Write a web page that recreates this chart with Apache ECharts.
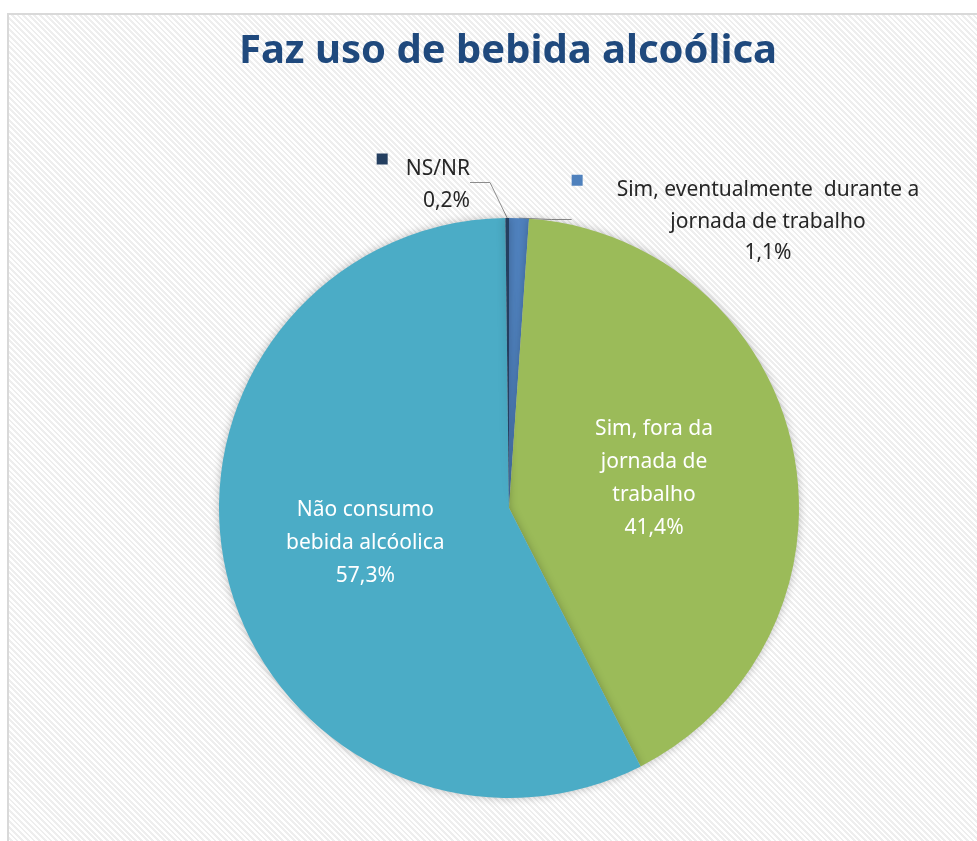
<!DOCTYPE html>
<html>
<head>
<meta charset="utf-8">
<script src="https://cdn.jsdelivr.net/npm/echarts@6/dist/echarts.min.js"></script>
<style>
  html, body { margin: 0; padding: 0; background: #fff; overflow: hidden; }
  .frame {
    position: absolute; left: 7px; top: 13px; width: 990px; height: 850px;
    border-left: 2px solid #d9d9d9; border-top: 2px solid #d9d9d9;
    background: repeating-linear-gradient(45deg, #ffffff 0px, #ffffff 2px, #eeeeee 2px, #eeeeee 4px);
  }
  #chart { position: absolute; left: 0; top: 0; width: 977px; height: 841px; }
</style>
</head>
<body>
<div class="frame"></div>
<div id="chart"></div>
<script>
// dados (ordem horária a partir do topo)
const categories = ['Sim, eventualmente  durante a jornada de trabalho', 'Sim, fora da jornada de trabalho', 'Não consumo bebida alcóolica', 'NS/NR']
const labelTexts = [
  ['Sim, eventualmente  durante a', 'jornada de trabalho'],
  ['Sim, fora da', 'jornada de', 'trabalho'],
  ['Não consumo', 'bebida alcóolica'],
  ['NS/NR']
]
const values = [1.1, 41.4, 57.3, 0.2]
const colors = ['#4F81BD', '#9BBB59', '#4BACC6', '#243F60']

const fmt = v => v.toFixed(1).replace('.', ',') + '%'

const myChart = echarts.init(document.getElementById('chart'))

const seriesData = values.map((v, i) => {
  const item = { name: categories[i], value: v, itemStyle: { color: colors[i] } }
  if (i === 0) {
    // rótulo externo com quadrado da legenda
    item.label = {
      position: 'outside',
      formatter: '{sq|}{gapB|}{t|' + labelTexts[i][0] + '}{pad|}\n{t|' + labelTexts[i][1] + '}\n{t|' + fmt(v) + '}',
      align: 'center'
    }
  } else if (i === 3) {
    item.label = {
      position: 'outside',
      formatter: '{sqN|}{gap|}{t|' + labelTexts[i][0] + '}\n{t|' + fmt(v) + '}',
      align: 'right'
    }
  } else {
    item.label = {
      position: 'inside',
      formatter: labelTexts[i].join('\n') + '\n' + fmt(v),
      color: '#ffffff',
      lineHeight: 33
    }
  }
  return item
})

const option = {
  backgroundColor: 'transparent',
  title: {
    text: 'Faz uso de bebida alcoólica',
    left: 503,
    textAlign: 'center',
    top: 27,
    textStyle: {
      fontFamily: 'Noto Sans',
      fontWeight: 'bold',
      fontSize: 40,
      color: '#1F497D'
    }
  },
  series: [{
    type: 'pie',
    center: [509, 508],
    radius: 290,
    startAngle: 90,
    clockwise: true,
    animation: false,
    itemStyle: {
      shadowBlur: 8,
      shadowColor: 'rgba(0, 0, 0, 0.25)'
    },
    label: {
      fontFamily: 'Noto Sans',
      fontSize: 21,
      lineHeight: 31,
      color: '#262626',
      rich: {
        t: { fontFamily: 'Noto Sans', fontSize: 21, lineHeight: 31.5, color: '#262626' },
        sq: { width: 11, height: 11, backgroundColor: '#4F81BD', verticalAlign: 'top' },
        sqN: { width: 11, height: 11, backgroundColor: '#243F60', verticalAlign: 'top' },
        gap: { width: 18 },
        gapB: { width: 34 },
        pad: { width: 45 }
      }
    },
    labelLine: {
      show: true,
      length: 12,
      length2: 20,
      lineStyle: { color: '#8c8c8c', width: 1 }
    },
    labelLayout: function (params) {
      if (params.dataIndex === 0) {
        return { x: 768, y: 222, align: 'center', verticalAlign: 'middle' }
      }
      if (params.dataIndex === 3) {
        return { x: 470, y: 185, align: 'right', verticalAlign: 'middle' }
      }
    },
    data: seriesData
  }]
}

myChart.setOption(option)
</script>
</body>
</html>
